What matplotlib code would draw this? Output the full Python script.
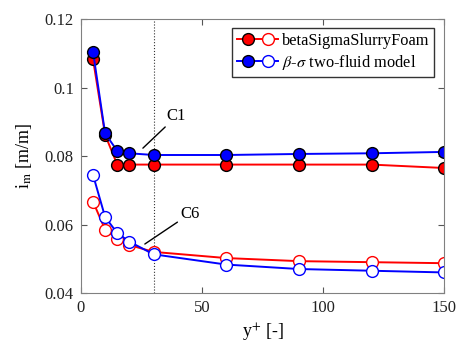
import matplotlib.pyplot as plt
from matplotlib.lines import Line2D
from matplotlib.legend_handler import HandlerTuple

plt.rcParams['font.family'] = ['Liberation Serif', 'DejaVu Serif']
plt.rcParams['mathtext.fontset'] = 'stix'

# y+ positions
yplus = [5, 10, 15, 20, 30, 60, 90, 120, 150]

# C1 (filled markers)
bsf_c1 = [0.1083, 0.0862, 0.0775, 0.0775, 0.0775, 0.0775, 0.0775, 0.0775, 0.0765]
tf_c1 = [0.1105, 0.0866, 0.0815, 0.0808, 0.0803, 0.0803, 0.0806, 0.0808, 0.0812]

# C6 (open markers)
bsf_c6 = [0.0667, 0.0585, 0.0558, 0.0540, 0.0520, 0.0502, 0.0493, 0.0490, 0.0487]
tf_c6 = [0.0745, 0.0622, 0.0575, 0.0550, 0.0513, 0.0483, 0.0470, 0.0465, 0.0460]

fig = plt.figure(figsize=(4.57, 3.53), dpi=100)
ax = fig.add_axes([0.177, 0.17, 0.795, 0.776])

ms = 8.5
lw = 1.4
ax.axvline(30, color='#333333', ls=':', lw=0.8)

ax.plot(yplus, bsf_c1, '-o', color='red', mfc='red', mec='black', ms=ms, lw=lw)
ax.plot(yplus, tf_c1, '-o', color='blue', mfc='blue', mec='black', ms=ms, lw=lw)
ax.plot(yplus, bsf_c6, '-o', color='red', mfc='white', mec='red', ms=ms, lw=lw)
ax.plot(yplus, tf_c6, '-o', color='blue', mfc='white', mec='blue', ms=ms, lw=lw)

# annotations
ax.annotate('C1', xy=(25.6, 0.0823), xytext=(35.5, 0.0893), fontsize=12,
            arrowprops=dict(arrowstyle='-', color='black', lw=1, shrinkA=0, shrinkB=0),
            ha='left', va='bottom')
ax.annotate('C6', xy=(26.4, 0.0543), xytext=(41, 0.0608), fontsize=12,
            arrowprops=dict(arrowstyle='-', color='black', lw=1, shrinkA=0, shrinkB=0),
            ha='left', va='bottom')

ax.set_xlim(0, 150)
ax.set_ylim(0.04, 0.12)
ax.set_xticks([0, 50, 100, 150])
ax.set_yticks([0.04, 0.06, 0.08, 0.1, 0.12])
ax.set_yticklabels(['0.04', '0.06', '0.08', '0.1', '0.12'])
ax.tick_params(direction='in', top=True, right=True, labelsize=12, colors='#555555',
               length=4, pad=5)
for lab in ax.get_xticklabels() + ax.get_yticklabels():
    lab.set_color('#222222')
for s in ax.spines.values():
    s.set_color('#808080')

ax.set_xlabel('y$^{+}$ [-]', fontsize=13)
ax.set_ylabel('i$_{\\mathrm{m}}$ [m/m]', fontsize=13, labelpad=8)

# legend with filled + open markers per entry
def entry(c):
    a = Line2D([], [], color=c, lw=lw, marker='o', ms=ms, mfc=c, mec='black')
    b = Line2D([], [], color=c, lw=lw, marker='o', ms=ms, mfc='white', mec=c)
    return (a, b)

ax.legend([entry('red'), entry('blue')],
          ['betaSigmaSlurryFoam', '$\\beta$-$\\sigma$ two-fluid model'],
          handler_map={tuple: HandlerTuple(ndivide=2, pad=0)}, numpoints=1,
          loc='upper right', bbox_to_anchor=(0.972, 0.967), borderaxespad=0,
          fontsize=11.8, fancybox=False, edgecolor='#333333',
          handlelength=2.5, handletextpad=0.2, borderpad=0.3, labelspacing=0.25,
          framealpha=1)

fig.savefig('out.png', dpi=100)
